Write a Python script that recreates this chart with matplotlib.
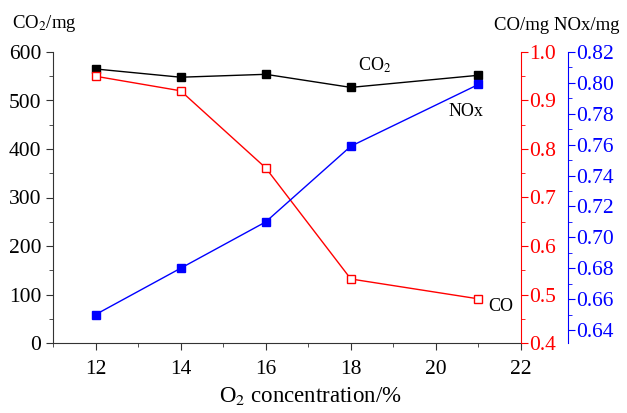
import matplotlib
matplotlib.use("Agg")
import matplotlib.pyplot as plt
from matplotlib.ticker import MultipleLocator, FormatStrFormatter

plt.rcParams['font.family'] = ['Liberation Serif', 'DejaVu Serif']
plt.rcParams['mathtext.fontset'] = 'stix'

o2 = [12, 14, 16, 18, 21]
co2 = [565, 548, 554, 527, 552]
co = [0.950, 0.920, 0.761, 0.532, 0.491]
nox = [0.650, 0.680, 0.710, 0.759, 0.799]

fig = plt.figure(figsize=(6.27, 4.13), dpi=100)
ax = fig.add_axes([53/627, 1-343/413, (521-53)/627, (343-52)/413])
ax2 = ax.twinx()
ax3 = ax.twinx()
ax3.spines['right'].set_position(('axes', (568-53)/(521-53)))

fs = 15.5
ax.plot(o2, co2, color='black', lw=1, marker='s', ms=6, mfc='black', mec='black', zorder=3)
ax2.plot(o2, co, color='red', lw=1, marker='s', ms=6, mfc='white', mec='red')
ax3.plot(o2, nox, color='blue', lw=1, marker='s', ms=6, mfc='blue', mec='blue')

ax.set_xlim(11, 22)
ax.set_ylim(0, 600)
ax2.set_ylim(0.4, 1.0)
ax3.set_ylim(0.6316, 0.82)

ax.xaxis.set_major_locator(MultipleLocator(2))
ax.xaxis.set_minor_locator(MultipleLocator(1))
ax.yaxis.set_major_locator(MultipleLocator(100))
ax.yaxis.set_minor_locator(MultipleLocator(50))
ax2.yaxis.set_major_locator(MultipleLocator(0.1))
ax2.yaxis.set_minor_locator(MultipleLocator(0.05))
ax2.yaxis.set_major_formatter(FormatStrFormatter('%.1f'))
ax3.yaxis.set_major_locator(MultipleLocator(0.02))
ax3.yaxis.set_minor_locator(MultipleLocator(0.01))
ax3.yaxis.set_major_formatter(FormatStrFormatter('%.2f'))

for a in (ax, ax2, ax3):
    a.spines['top'].set_visible(False)
ax.spines['right'].set_visible(False)
ax2.spines['left'].set_visible(False)
ax3.spines['left'].set_visible(False)
ax3.spines['bottom'].set_visible(False)
ax2.spines['bottom'].set_visible(False)

dark = '#333333'
ax.spines['left'].set_color(dark)
ax.spines['bottom'].set_color(dark)
ax2.spines['right'].set_color('red')
ax3.spines['right'].set_color('blue')

ax.tick_params(axis='both', which='major', direction='out', length=5, labelsize=fs, color=dark, labelcolor='black')
ax.tick_params(axis='x', which='major', pad=7)
ax.tick_params(axis='both', which='minor', direction='out', length=3, color=dark)
ax2.tick_params(axis='y', which='major', direction='out', length=5, labelsize=fs, color='red', labelcolor='red', pad=1)
ax2.tick_params(axis='y', which='minor', direction='out', length=3, color='red')
ax3.tick_params(axis='y', which='major', direction='out', length=5, labelsize=fs, color='blue', labelcolor='blue', pad=1)
ax3.tick_params(axis='y', which='minor', direction='out', length=3, color='blue')

ax.set_xlabel(r'O$_2$ concentration/%', fontsize=16.5)
ax.xaxis.set_label_coords((310-53)/468, -(396-343)/291, transform=ax.transAxes)
ax.xaxis.label.set_va('center')

fig.text(12/627, 1-24/413, r'CO$_2$/mg', fontsize=13.5, va='center', ha='left')
fig.text(620/627, 1-26/413, 'CO/mg NOx/mg', fontsize=13.5, va='center', ha='right')

ax.text(18.17, 573, r'CO$_2$', fontsize=13, ha='left', va='center')
ax.text(20.3, 478, 'NOx', fontsize=13, ha='left', va='center')
ax2.text(21.22, 0.475, 'CO', fontsize=13, ha='left', va='center')

fig.savefig('out.png', dpi=100)
